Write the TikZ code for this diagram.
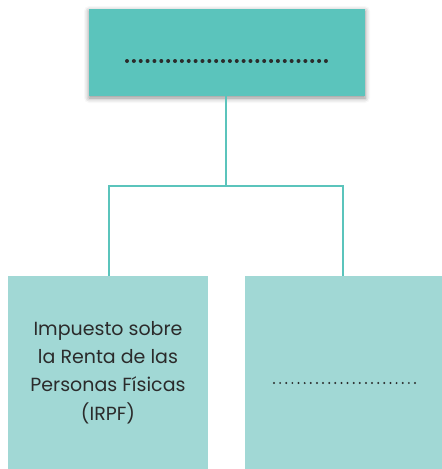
\documentclass[tikz,border=0pt]{standalone}
\usepackage{fontspec}
\setmainfont{Poppins}
\usetikzlibrary{shadows.blur}
\definecolor{topteal}{HTML}{5BC4BC}
\definecolor{lightteal}{HTML}{A1D8D5}
\definecolor{txt}{HTML}{2B2B2B}
\begin{document}
\begin{tikzpicture}[x=1pt,y=-1pt,
  topbox/.style={fill=topteal,draw=none,minimum width=276pt,minimum height=87pt,inner sep=0pt,
     blur shadow={shadow xshift=0pt,shadow yshift=-2pt,shadow blur radius=5pt,shadow opacity=45}},
  leafbox/.style={fill=lightteal,draw=none,minimum width=200pt,minimum height=193pt,inner sep=0pt,
     text=txt,align=center,font=\fontsize{19}{28.3}\selectfont},
  conn/.style={draw=topteal,line width=2.8pt},
  bigdot/.style={fill=txt,draw=none},
  smalldot/.style={fill=txt,draw=none}]
\useasboundingbox (0,0) rectangle (442,469);
\node[topbox] (top) at (227,52.5) {};
\foreach \i in {0,...,29} \fill[bigdot] (127+\i*6.86,61) circle (2pt);
\node[leafbox,minimum width=200pt] (left) at (108,372.5) {\raisebox{-6pt}{\parbox{200pt}{\centering Impuesto sobre\\la Renta de las\\Personas Físicas\\(IRPF)}}};
\node[leafbox,minimum width=197pt] (right) at (343.5,372.5) {};
\foreach \i in {0,...,23} \fill[smalldot] (274+\i*6.13,383) circle (1.1pt);
\coordinate (j) at (226,186);
\coordinate (jl) at (109,186);
\coordinate (jr) at (343,186);
\draw[conn] (top.south -| j) -- (j);
\draw[conn] (left.north -| jl) -- (jl) -- (jr) -- (right.north -| jr);
\end{tikzpicture}
\end{document}
